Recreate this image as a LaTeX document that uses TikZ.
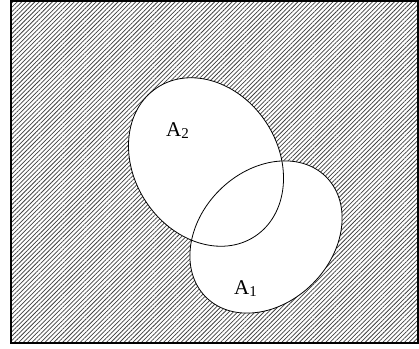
\documentclass[tikz,border=0pt]{standalone}
\usepackage{fontspec}
\setmainfont{Liberation Serif}
\usetikzlibrary{patterns.meta}

\newcommand{\setindex}[1]{\raisebox{-2pt}{\fontsize{15}{15}\selectfont #1}}

\begin{document}
\begin{tikzpicture}[
    x=1pt, y=-1pt,
    universe/.style={pattern={Lines[angle=45, distance=3.1pt, line width=0.75pt]}, pattern color=black!75},
    setfill/.style={fill=white},
    setedge/.style={draw=black, line width=0.8pt},
    frame/.style={draw=black, line width=1.1pt},
    setlabel/.style={anchor=base west, inner sep=0pt, font=\fontsize{21}{21}\selectfont}
]
    \useasboundingbox (0,0) rectangle (419,348);

    % --- SET OUTLINES ---
    \path[save path=\aonepath] (266,237) ellipse [x radius=85pt, y radius=66pt, rotate=45];
    \path[save path=\atwopath] (206,162) ellipse [x radius=89pt, y radius=72pt, rotate=-56.7];

    % --- SHADED COMPLEMENT ---
    \fill[universe] (11,1) rectangle (418,343);
    \fill[setfill, use path=\aonepath];
    \fill[setfill, use path=\atwopath];

    \draw[setedge, use path=\aonepath];
    \draw[setedge, use path=\atwopath];
    \draw[frame] (11,1) rectangle (418,343);

    % --- LABELS ---
    \node[setlabel] (labelAtwo) at (166,136) {A\setindex{2}};
    \node[setlabel] (labelAone) at (234,294) {A\setindex{1}};

\end{tikzpicture}
\end{document}
